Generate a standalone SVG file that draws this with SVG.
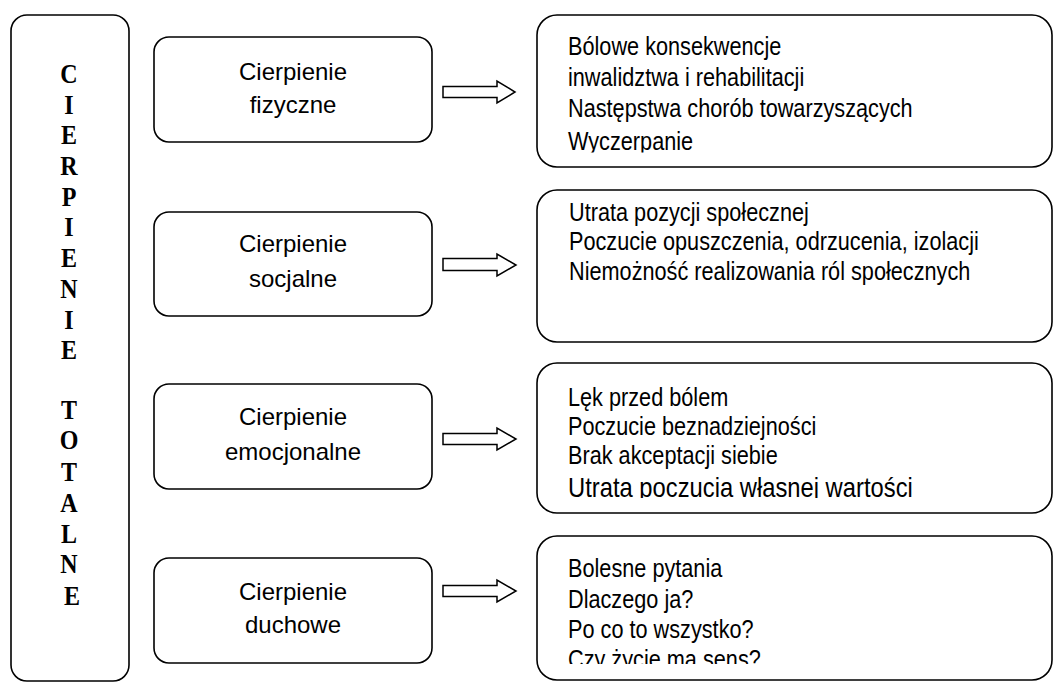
<svg xmlns="http://www.w3.org/2000/svg" width="1054" height="682" viewBox="0 0 1054 682">
<style>
.box{fill:#fff;stroke:#000;stroke-width:1.6}
.arrow{fill:#fff;stroke:#000;stroke-width:1.5;stroke-linejoin:miter}
.mid{font-family:"Liberation Sans",Arial,sans-serif;font-size:24px;fill:#000;text-anchor:middle}
.txt{font-family:"Liberation Sans",Arial,sans-serif;font-size:25px;fill:#000}
.big{font-size:27.4px}
.vert{font-family:"Liberation Serif","Times New Roman",serif;font-weight:bold;font-size:27px;fill:#000;text-anchor:middle}
</style>
<defs>
<clipPath id="c1"><rect x="540" y="18" width="600" height="134.5"/></clipPath>
<clipPath id="c3"><rect x="540" y="366" width="600" height="132"/></clipPath>
<clipPath id="c4"><rect x="540" y="539" width="600" height="125"/></clipPath>
</defs>
<rect width="1054" height="682" fill="#fff"/>
<g id="total">
<rect class="box" x="11" y="15" width="118" height="666" rx="16"/>
<text class="vert" transform="translate(72,0) scale(0.89,1) translate(-72,0)">
<tspan x="72" y="83">C</tspan>
<tspan x="72" y="113.7">I</tspan>
<tspan x="72" y="144.4">E</tspan>
<tspan x="72" y="175.1">R</tspan>
<tspan x="72" y="205.8">P</tspan>
<tspan x="72" y="236.5">I</tspan>
<tspan x="72" y="267.2">E</tspan>
<tspan x="72" y="297.9">N</tspan>
<tspan x="72" y="328.6">I</tspan>
<tspan x="72" y="359.3">E</tspan>
<tspan x="72" y="419">T</tspan>
<tspan x="72" y="449.5">O</tspan>
<tspan x="72" y="481">T</tspan>
<tspan x="72" y="512">A</tspan>
<tspan x="72" y="543">L</tspan>
<tspan x="72" y="573.5">N</tspan>
<tspan x="72" y="605">E</tspan>
</text>
</g>
<g id="fizyczne">
<rect class="box" x="154" y="37" width="278" height="105" rx="15"/>
<text class="mid"><tspan x="293" y="80">Cierpienie</tspan><tspan x="293" y="113">fizyczne</tspan></text>
</g>
<g id="socjalne">
<rect class="box" x="154" y="212" width="278" height="104" rx="15"/>
<text class="mid"><tspan x="293" y="252">Cierpienie</tspan><tspan x="293" y="287">socjalne</tspan></text>
</g>
<g id="emocjonalne">
<rect class="box" x="154" y="384" width="278" height="105" rx="15"/>
<text class="mid"><tspan x="293" y="425">Cierpienie</tspan><tspan x="293" y="460">emocjonalne</tspan></text>
</g>
<g id="duchowe">
<rect class="box" x="154" y="558" width="278" height="105" rx="15"/>
<text class="mid"><tspan x="293" y="600">Cierpienie</tspan><tspan x="293" y="633">duchowe</tspan></text>
</g>
<g id="connectors">
<polygon class="arrow" points="443,86.5 497,86.5 497,81 515,92 497,103 497,97.5 443,97.5"/>
<polygon class="arrow" points="443,258.5 497,258.5 497,254 516,265 497,276 497,270.5 443,270.5"/>
<polygon class="arrow" points="443,433.5 497,433.5 497,428 516,439 497,450 497,444.5 443,444.5"/>
<polygon class="arrow" points="443,585.5 497,585.5 497,580 516,591 497,602 497,596.5 443,596.5"/>
</g>
<g id="skutki-fizyczne">
<rect class="box" x="537" y="15" width="515" height="152" rx="20"/>
<g clip-path="url(#c1)"><text class="txt" transform="translate(568,0) scale(0.868,1) translate(-568,0)"><tspan x="568" y="55">Bólowe konsekwencje</tspan><tspan x="568" y="86">inwalidztwa i rehabilitacji</tspan><tspan x="568" y="117">Następstwa chorób towarzyszących</tspan><tspan x="568" y="150.5">Wyczerpanie</tspan></text></g>
</g>
<g id="skutki-socjalne">
<rect class="box" x="537" y="190" width="515" height="152" rx="20"/>
<text class="txt" transform="translate(569,0) scale(0.868,1) translate(-569,0)"><tspan x="569" y="221">Utrata pozycji społecznej</tspan><tspan x="569" y="250.5">Poczucie opuszczenia, odrzucenia, izolacji</tspan><tspan x="569" y="280">Niemożność realizowania ról społecznych</tspan></text>
</g>
<g id="skutki-emocjonalne">
<rect class="box" x="537" y="363" width="515" height="150" rx="20"/>
<g clip-path="url(#c3)"><text class="txt" transform="translate(568,0) scale(0.868,1) translate(-568,0)"><tspan x="568" y="406">Lęk przed bólem</tspan><tspan x="568" y="435">Poczucie beznadziejności</tspan><tspan x="568" y="464.5">Brak akceptacji siebie</tspan><tspan class="big" x="568" y="497">Utrata poczucia własnej wartości</tspan></text></g>
</g>
<g id="skutki-duchowe">
<rect class="box" x="537" y="536" width="515" height="144" rx="20"/>
<g clip-path="url(#c4)"><text class="txt" transform="translate(568,0) scale(0.868,1) translate(-568,0)"><tspan x="568" y="577">Bolesne pytania</tspan><tspan x="568" y="608">Dlaczego ja?</tspan><tspan x="568" y="638">Po co to wszystko?</tspan><tspan x="568" y="668">Czy życie ma sens?</tspan></text></g>
</g>
</svg>
